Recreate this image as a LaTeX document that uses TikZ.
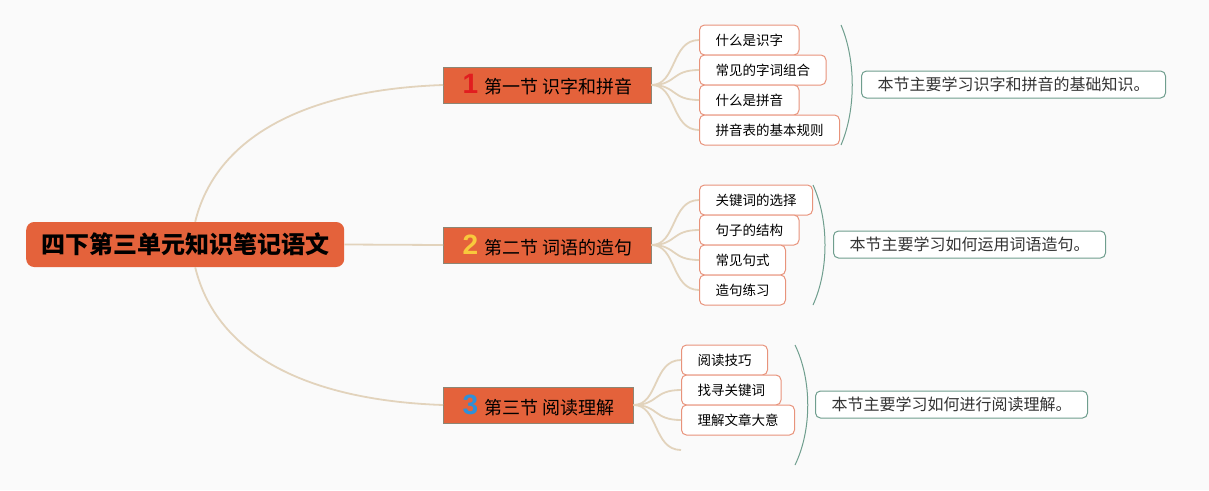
\documentclass[tikz,border=0pt]{standalone}
\usepackage{fontspec}
\setmainfont{Noto Sans CJK SC}
\newfontfamily\numfont{Liberation Sans}
\definecolor{fond}{HTML}{FAFAFA}
\definecolor{orangefond}{HTML}{E4623B}
\definecolor{grisbord}{HTML}{8C8674}
\definecolor{lien}{HTML}{E2D3BC}
\definecolor{saumon}{HTML}{E8937B}
\definecolor{vertbord}{HTML}{6F9E8E}
\definecolor{rouge}{HTML}{E11D1F}
\definecolor{jaune}{HTML}{F8C93C}
\definecolor{bleu}{HTML}{2F90D9}
\newcommand\chiffre[2]{{\numfont\bfseries\fontsize{28}{28}\selectfont\color{#1}#2}\hspace{6pt}}
\begin{document}
\begin{tikzpicture}[x=1pt,y=-1pt,
  branche/.style={draw=lien,line width=1.8pt},
  racine/.style={fill=orangefond,rounded corners=8pt,minimum height=45pt,inner xsep=15pt,inner ysep=0pt,anchor=west,font=\fontsize{24}{24}\selectfont\bfseries},
  section/.style={fill=orangefond,draw=grisbord,line width=1pt,minimum height=36pt,inner xsep=19pt,inner ysep=0pt,anchor=west,font=\fontsize{18}{18}\selectfont},
  feuille/.style={draw=saumon,fill=white,line width=1pt,rounded corners=5pt,minimum height=30pt,inner xsep=16pt,inner ysep=0pt,anchor=west,font=\fontsize{13.5}{13.5}\selectfont},
  resume/.style={draw=vertbord,fill=white,line width=1pt,rounded corners=5pt,minimum height=27pt,inner xsep=16pt,inner ysep=0pt,anchor=west,text=black!80,font=\fontsize{16}{16}\selectfont},
  accolade/.style={draw=vertbord,line width=1pt}]
  % Fond
  \fill[fond] (0,0) rectangle (1209,490);
  \useasboundingbox (0,0) rectangle (1209,490);
  % Racine et sections
  \node[racine] (root) at (26,244.5) {四下第三单元知识笔记语文};
  \node[section] (s1) at (443,85) {\chiffre{rouge}{1}第一节 识字和拼音};
  \node[section] (s2) at (443,245) {\chiffre{jaune}{2}第二节 词语的造句};
  \node[section] (s3) at (443,405) {\chiffre{bleu}{3}第三节 阅读理解};
  \draw[branche] ([xshift=10pt]root.north) .. controls (215,140) and (300,90) .. (s1.west);
  \draw[branche] (root.east) -- (s2.west);
  \draw[branche] ([xshift=10pt]root.south) .. controls (215,350) and (300,400) .. (s3.west);
  % Section 1
  \node[feuille] (f11) at (699,40) {什么是识字};
  \node[feuille] (f12) at (699,70) {常见的字词组合};
  \node[feuille] (f13) at (699,100) {什么是拼音};
  \node[feuille] (f14) at (699,130) {拼音表的基本规则};
  \foreach \f in {f11,f12,f13,f14}
    \draw[branche] (s1.east) .. controls +(25,0) and +(-28,0) .. (\f.west);
  \coordinate (a1h) at (841,25);
  \coordinate (a1b) at (841,145);
  \draw[accolade] (a1h) .. controls (856,60) and (856,110) .. (a1b);
  \node[resume] (r1) at (861,84.5) {本节主要学习识字和拼音的基础知识。};
  % Section 2
  \node[feuille] (f21) at (699,200) {关键词的选择};
  \node[feuille] (f22) at (699,230) {句子的结构};
  \node[feuille] (f23) at (699,260) {常见句式};
  \node[feuille] (f24) at (699,290) {造句练习};
  \foreach \f in {f21,f22,f23,f24}
    \draw[branche] (s2.east) .. controls +(25,0) and +(-28,0) .. (\f.west);
  \coordinate (a2h) at (813,185);
  \coordinate (a2b) at (813,305);
  \draw[accolade] (a2h) .. controls (829,220) and (829,270) .. (a2b);
  \node[resume] (r2) at (833,244.5) {本节主要学习如何运用词语造句。};
  % Section 3
  \node[feuille] (f31) at (681,360) {阅读技巧};
  \node[feuille] (f32) at (681,390) {找寻关键词};
  \node[feuille] (f33) at (681,420) {理解文章大意};
  \coordinate (f34) at (681,450);
  \foreach \f in {f31,f32,f33}
    \draw[branche] (s3.east) .. controls +(25,0) and +(-28,0) .. (\f.west);
  \draw[branche] (s3.east) .. controls +(25,0) and +(-28,0) .. (f34);
  \coordinate (a3h) at (795,345);
  \coordinate (a3b) at (795,465);
  \draw[accolade] (a3h) .. controls (812,380) and (812,430) .. (a3b);
  \node[resume] (r3) at (815,404.5) {本节主要学习如何进行阅读理解。};
\end{tikzpicture}
\end{document}
